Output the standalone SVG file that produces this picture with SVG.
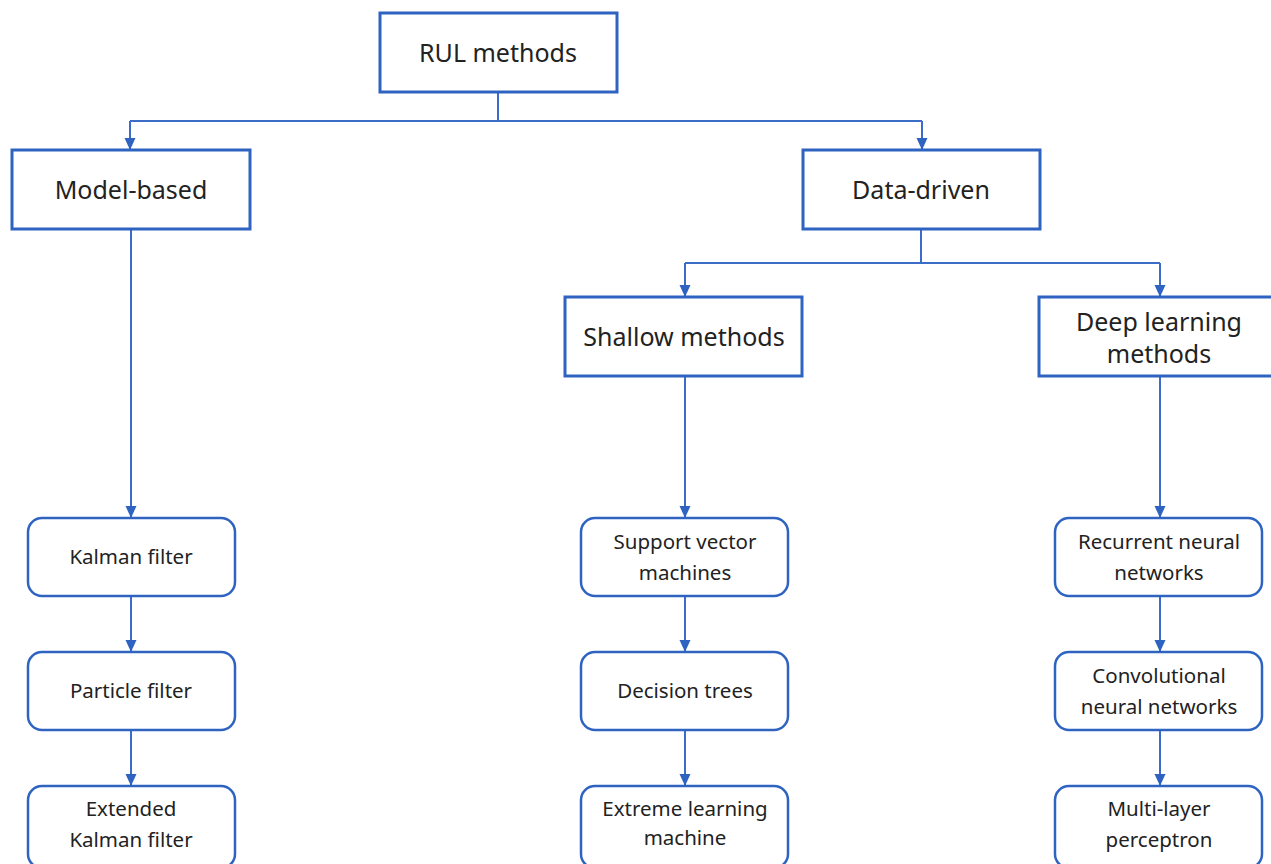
<svg xmlns="http://www.w3.org/2000/svg" width="1271" height="864" viewBox="0 0 1271 864">
<style>
.box{fill:#fff;stroke:#2e63c2;stroke-width:3}
.sm{fill:#fff;stroke:#2e63c2;stroke-width:2.5}
.c{fill:none;stroke:#3b6cc8;stroke-width:2}
.t{font-family:"Noto Sans","Open Sans",sans-serif;fill:#222;text-anchor:middle}
.big{font-size:25px}
.small{font-size:20.5px}
</style>
<defs>
<marker id="ah" markerUnits="userSpaceOnUse" markerWidth="12" markerHeight="12" viewBox="0 0 12 12" refX="12" refY="6" orient="auto">
<path d="M0,0.5 L12,6 L0,11.5 z" fill="#2e63c2"/>
</marker>
</defs>
<rect width="1271" height="864" fill="#fff"/>
<g id="connectors">
<path class="c" d="M498 92 V121 M130 121 H922"/>
<path class="c" d="M130 121 V150" marker-end="url(#ah)"/>
<path class="c" d="M922 121 V150" marker-end="url(#ah)"/>
<path class="c" d="M921 229 V263 M685 263 H1160"/>
<path class="c" d="M685 263 V297" marker-end="url(#ah)"/>
<path class="c" d="M1160 263 V297" marker-end="url(#ah)"/>
<path class="c" d="M131 229 V518" marker-end="url(#ah)"/>
<path class="c" d="M131 596 V652" marker-end="url(#ah)"/>
<path class="c" d="M131 730 V786" marker-end="url(#ah)"/>
<path class="c" d="M685 376 V518" marker-end="url(#ah)"/>
<path class="c" d="M685 596 V652" marker-end="url(#ah)"/>
<path class="c" d="M685 730 V786" marker-end="url(#ah)"/>
<path class="c" d="M1160 376 V518" marker-end="url(#ah)"/>
<path class="c" d="M1160 596 V652" marker-end="url(#ah)"/>
<path class="c" d="M1160 730 V786" marker-end="url(#ah)"/>
</g>
<g id="rul"><rect class="box" x="380" y="13" width="237" height="79"/><text class="t big" x="498" y="62">RUL methods</text></g>
<g id="model"><rect class="box" x="12" y="150" width="238" height="79"/><text class="t big" x="131" y="199">Model-based</text></g>
<g id="data"><rect class="box" x="803" y="150" width="237" height="79"/><text class="t big" x="921" y="199">Data-driven</text></g>
<g id="shallow"><rect class="box" x="565" y="297" width="237" height="79"/><text class="t big" x="684" y="346">Shallow methods</text></g>
<g id="deep"><rect class="box" x="1039" y="297" width="240" height="79"/><text class="t big" x="1159" y="331">Deep learning</text><text class="t big" x="1159" y="363">methods</text></g>
<g id="kalman"><rect class="sm" x="28" y="518" width="207" height="78" rx="14"/><text class="t small" x="131" y="564">Kalman filter</text></g>
<g id="particle"><rect class="sm" x="28" y="652" width="207" height="78" rx="14"/><text class="t small" x="131" y="698">Particle filter</text></g>
<g id="ekf"><rect class="sm" x="28" y="786" width="207" height="82" rx="14"/><text class="t small" x="131" y="816">Extended</text><text class="t small" x="131" y="847">Kalman filter</text></g>
<g id="svm"><rect class="sm" x="581" y="518" width="207" height="78" rx="14"/><text class="t small" x="685" y="549">Support vector</text><text class="t small" x="685" y="580">machines</text></g>
<g id="dt"><rect class="sm" x="581" y="652" width="207" height="78" rx="14"/><text class="t small" x="685" y="698">Decision trees</text></g>
<g id="elm"><rect class="sm" x="581" y="786" width="207" height="82" rx="14"/><text class="t small" x="685" y="816">Extreme learning</text><text class="t small" x="685" y="845">machine</text></g>
<g id="rnn"><rect class="sm" x="1055" y="518" width="207" height="78" rx="14"/><text class="t small" x="1159" y="549">Recurrent neural</text><text class="t small" x="1159" y="580">networks</text></g>
<g id="cnn"><rect class="sm" x="1055" y="652" width="207" height="78" rx="14"/><text class="t small" x="1159" y="683">Convolutional</text><text class="t small" x="1159" y="714">neural networks</text></g>
<g id="mlp"><rect class="sm" x="1055" y="786" width="207" height="82" rx="14"/><text class="t small" x="1159" y="816">Multi-layer</text><text class="t small" x="1159" y="847">perceptron</text></g>
</svg>
